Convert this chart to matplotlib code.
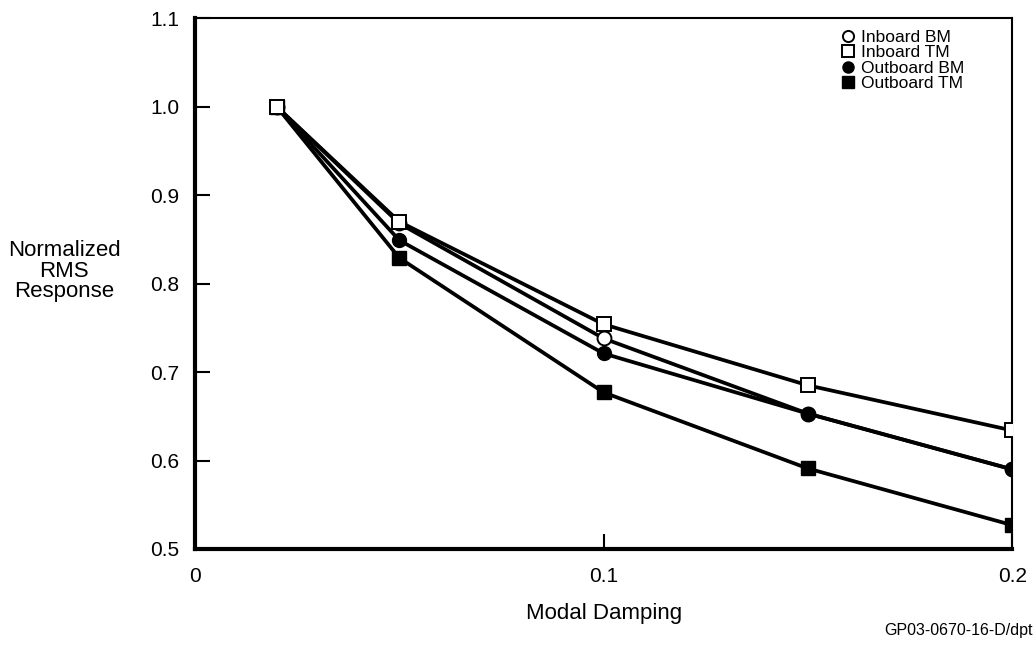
import matplotlib
matplotlib.use('Agg')
import matplotlib.pyplot as plt

plt.rcParams['font.family'] = ['Liberation Sans', 'DejaVu Sans']

# damping values and normalized responses
damping = [0.02, 0.05, 0.1, 0.15, 0.2]
inboard_bm = [1.0, 0.868, 0.738, 0.653, 0.59]
inboard_tm = [1.0, 0.870, 0.754, 0.685, 0.634]
outboard_bm = [1.0, 0.849, 0.721, 0.653, 0.59]
outboard_tm = [1.0, 0.829, 0.677, 0.591, 0.527]

x_ticks = [0, 0.1, 0.2]
x_tick_labels = ['0', '0.1', '0.2']
y_ticks = [0.5, 0.6, 0.7, 0.8, 0.9, 1.0, 1.1]

fig = plt.figure(figsize=(10.35, 6.5), dpi=100)
ax = fig.add_axes([0.1884, 0.1554, 0.7896, 0.8166])

lw = 2.7
ms = 10
h1, = ax.plot(damping, inboard_bm, color='black', lw=lw, marker='o', ms=ms,
              mfc='white', mec='black', mew=1.4, label='Inboard BM', zorder=2)
h3, = ax.plot(damping, outboard_bm, color='black', lw=lw, marker='o', ms=ms,
              mfc='black', mec='black', label='Outboard BM', zorder=3)
h4, = ax.plot(damping, outboard_tm, color='black', lw=lw, marker='s', ms=ms,
              mfc='black', mec='black', label='Outboard TM', zorder=3)
h2, = ax.plot(damping, inboard_tm, color='black', lw=lw, marker='s', ms=ms,
              mfc='white', mec='black', mew=1.4, label='Inboard TM', zorder=4)

ax.set_xlim(0, 0.2)
ax.set_ylim(0.5, 1.1)
ax.set_xticks(x_ticks)
ax.set_xticklabels(x_tick_labels)
ax.set_yticks(y_ticks)
ax.set_yticklabels([f'{v:.1f}' for v in y_ticks])
ax.tick_params(direction='in', length=11, width=1.5, labelsize=15, pad=11)
ax.tick_params(axis='x', pad=13)

ax.spines['left'].set_linewidth(3)
ax.spines['bottom'].set_linewidth(3)
ax.spines['top'].set_linewidth(1.5)
ax.spines['right'].set_linewidth(1.5)

ax.set_xlabel('Modal Damping', fontsize=16, labelpad=12)
fig.text(0.062, 0.583, 'Normalized\nRMS\nResponse', fontsize=16,
         ha='center', va='center', linespacing=0.98)

leg = ax.legend(handles=[h1, h2, h3, h4], loc='upper right',
                bbox_to_anchor=(0.96, 1.008), frameon=False, fontsize=12.5,
                handlelength=0, handletextpad=0.75, labelspacing=0.02,
                markerscale=0.8)

fig.text(0.998, 0.018, 'GP03-0670-16-D/dpt', fontsize=11.5, ha='right',
         va='bottom')

fig.savefig('out.png', dpi=100)
